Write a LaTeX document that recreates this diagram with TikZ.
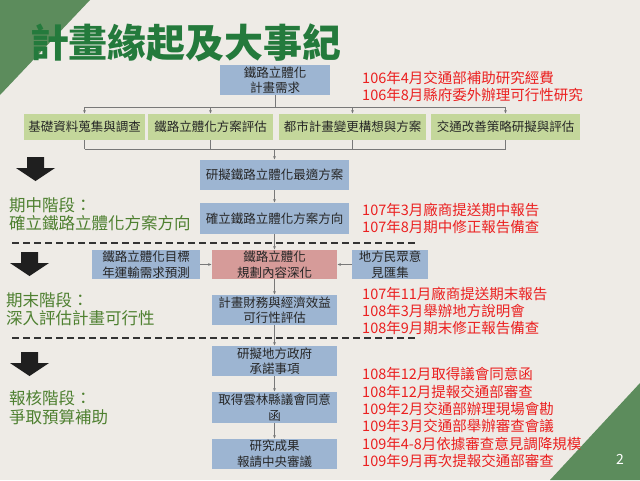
\documentclass[tikz,border=0pt]{standalone}
\usepackage{fontspec}
\setmainfont{Noto Sans CJK TC}
\usetikzlibrary{arrows.meta,positioning,calc}
\definecolor{slidebg}{RGB}{238,235,230}
\definecolor{softblue}{RGB}{157,181,210}
\definecolor{softgreen}{RGB}{196,215,155}
\definecolor{softpink}{RGB}{214,155,153}
\definecolor{leafgreen}{RGB}{92,140,92}
\definecolor{titlegreen}{RGB}{36,122,60}
\definecolor{stagegreen}{RGB}{78,128,48}
\definecolor{notered}{RGB}{235,32,32}
\definecolor{wiregrey}{RGB}{120,120,120}

\begin{document}
\begin{tikzpicture}[x=1pt,y=-1pt,
  every node/.style={font=\fontsize{12.5}{15.5}\selectfont,align=center,inner sep=0pt,text=black!85},
  bluebox/.style={fill=softblue,minimum height=30pt},
  greenbox/.style={fill=softgreen,minimum height=26pt},
  pinkbox/.style={fill=softpink,minimum height=29pt},
  note/.style={anchor=west,align=left,text=notered,font=\fontsize{14.5}{17.3}\selectfont},
  stage/.style={anchor=west,align=left,text=stagegreen,font=\fontsize{16.5}{18.5}\selectfont},
  wire/.style={draw=wiregrey,line width=0.8pt},
  tip/.style={-{Latex[length=3.5pt,width=3pt]}}]
\useasboundingbox (0,0) rectangle (640,480);
\fill[slidebg] (0,0) rectangle (640,480);
\fill[leafgreen] (0,0) -- (90,0) -- (0,95) -- cycle;
\fill[leafgreen] (640,383) -- (640,480) -- (550,480) -- cycle;

% title
\node[text=titlegreen,font=\fontsize{39}{39}\selectfont\bfseries] (title) at (186,43) {計畫緣起及大事紀};

% main flow
\node[bluebox,minimum width=110pt] (need) at (275,80) {鐵路立體化\\計畫需求};
\node[greenbox,minimum width=121pt] (g1) at (84.5,127) {基礎資料蒐集與調查};
\node[greenbox,minimum width=125pt] (g2) at (210.5,127) {鐵路立體化方案評估};
\node[greenbox,minimum width=147pt] (g3) at (352.5,127) {都市計畫變更構想與方案};
\node[greenbox,minimum width=149pt] (g4) at (505.5,127) {交通改善策略研擬與評估};
\node[bluebox,minimum width=149pt] (best) at (274.5,175) {研擬鐵路立體化最適方案};
\node[bluebox,minimum width=149pt,minimum height=31pt] (dir) at (274.5,218.5) {確立鐵路立體化方案方向};
\node[pinkbox,minimum width=125pt] (deep) at (274.5,264.5) {鐵路立體化\\規劃內容深化};
\node[bluebox,minimum width=108pt,minimum height=29pt] (demand) at (146,264.5) {鐵路立體化目標\\年運輸需求預測};
\node[bluebox,minimum width=76pt,minimum height=29pt] (opinion) at (390,264.5) {地方民眾意\\見匯集};
\node[bluebox,minimum width=125pt] (finance) at (274.5,310) {計畫財務與經濟效益\\可行性評估};
\node[bluebox,minimum width=125pt] (promise) at (274.5,361) {研擬地方政府\\承諾事項};
\node[bluebox,minimum width=125pt,minimum height=31pt] (council) at (274.5,407.5) {取得雲林縣議會同意\\函};
\node[bluebox,minimum width=125pt] (result) at (274.5,454) {研究成果\\報請中央審議};

% connectors
\coordinate (topbus) at (275,107);
\coordinate (lowbus) at (274.5,149);
\draw[wire] (need) -- (topbus);
\draw[wire] (g1.north |- topbus) -- (g4.north |- topbus);
\foreach \g in {g1,g2,g3,g4} \draw[wire,tip] (\g.north |- topbus) -- (\g.north);
\foreach \g in {g1,g2,g3,g4} \draw[wire] (\g.south) -- (\g.south |- lowbus);
\draw[wire] (g1.south |- lowbus) -- (g4.south |- lowbus);
\draw[wire,tip] (lowbus) -- (best);
\draw[wire,tip] (best)--(dir); \draw[wire,tip] (dir)--(deep); \draw[wire,tip] (deep)--(finance);
\draw[wire,tip] (finance)--(promise); \draw[wire,tip] (promise)--(council); \draw[wire,tip] (council)--(result);
\draw[wire,tip] (demand)--(deep); \draw[wire,tip] (opinion)--(deep);

% stage separators and arrows
\draw[black!80,line width=1.3pt,dash pattern=on 7pt off 4pt] (12,243) -- (415,243);
\draw[black!80,line width=1.3pt,dash pattern=on 7pt off 4pt] (12,338) -- (415,338);
\foreach \ax/\ay in {16/157,10/252,10/352}
  \fill[black!88] (\ax+11,\ay) -- ++(17,0) -- ++(0,11) -- ++(11,0) -- ++(-19.5,13) -- ++(-19.5,-13) -- ++(11,0) -- cycle;

% stage labels
\node[stage] (stage1) at (9,214) {期中階段：\\確立鐵路立體化方案方向};
\node[stage] (stage2) at (6,309) {期末階段：\\深入評估計畫可行性};
\node[stage] (stage3) at (9,407.5) {報核階段：\\爭取預算補助};

% milestones
\node[note] (note1) at (362,86.5) {106年4月交通部補助研究經費\\106年8月縣府委外辦理可行性研究};
\node[note] (note2) at (362,218.5) {107年3月廠商提送期中報告\\107年8月期中修正報告備查};
\node[note] (note3) at (362,311) {107年11月廠商提送期末報告\\108年3月舉辦地方說明會\\108年9月期末修正報告備查};
\node[note] (note4) at (362,417.5) {108年12月取得議會同意函\\108年12月提報交通部審查\\109年2月交通部辦理現場會勘\\109年3月交通部舉辦審查會議\\109年4-8月依據審查意見調降規模\\109年9月再次提報交通部審查};

\node[text=white,font=\fontsize{14}{14}\selectfont] (pagenum) at (620,459) {2};
\end{tikzpicture}
\end{document}
